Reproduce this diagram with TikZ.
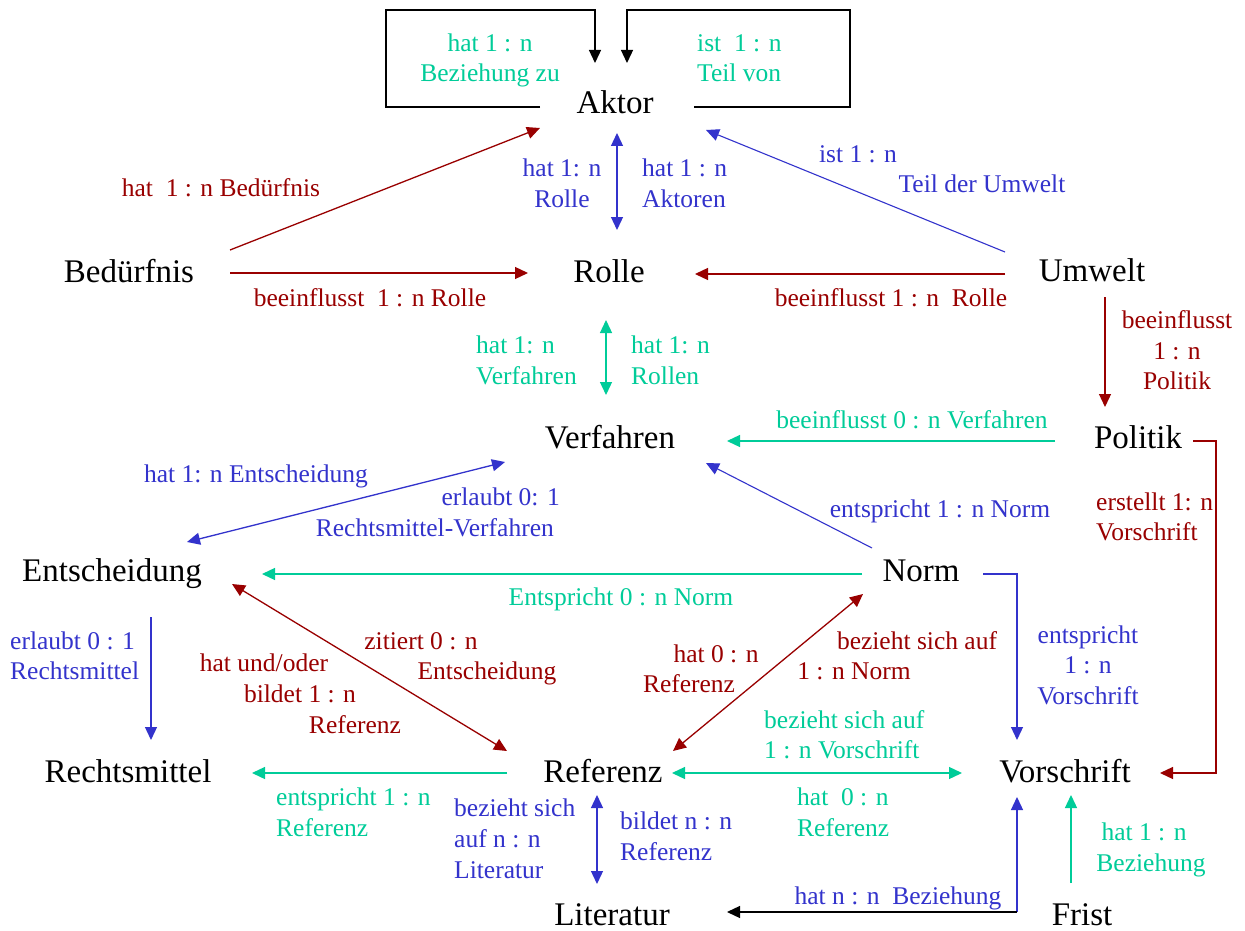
\documentclass[tikz,border=0pt]{standalone}
\usepackage{fontspec}
\setmainfont{Liberation Serif}
\usetikzlibrary{arrows.meta}

\definecolor{dred}{RGB}{153,0,0}
\definecolor{dblue}{RGB}{51,51,204}
\definecolor{dgreen}{RGB}{0,204,153}

\tikzset{
  entity/.style={anchor=base, inner sep=0pt, font=\fontsize{33}{38}\selectfont},
  lab/.style={inner sep=0pt, font=\fontsize{25.5}{30}\selectfont},
  tip/.style={-{Triangle[length=13pt,width=12pt]}},
  tips/.style={{Triangle[length=13pt,width=12pt]}-{Triangle[length=13pt,width=12pt]}},
  conn/.style={line width=1.3pt},
  rd/.style={conn, draw=dred},
  bl/.style={conn, draw=dblue},
  gr/.style={conn, draw=dgreen},
  bk/.style={conn, draw=black},
}

\begin{document}
\begin{tikzpicture}[x=1pt,y=-1pt]
\useasboundingbox[fill=white] (0,0) rectangle (1245,931);

% entities
\node[entity] (aktor)   at (615,114)  {Aktor};
\node[entity] (rolle)   at (609,282)  {Rolle};
\node[entity] (bed)     at (129,282)  {Bedürfnis};
\node[entity] (umwelt)  at (1092,281) {Umwelt};
\node[entity] (verf)    at (610,448)  {Verfahren};
\node[entity] (politik) at (1138,448) {Politik};
\node[entity] (entsch)  at (112,581)  {Entscheidung};
\node[entity] (norm)    at (921,581)  {Norm};
\node[entity] (rechts)  at (128,782)  {Rechtsmittel};
\node[entity] (ref)     at (603,782)  {Referenz};
\node[entity] (vors)    at (1065,782) {Vorschrift};
\node[entity] (lit)     at (612,925)  {Literatur};
\node[entity] (frist)   at (1082,925) {Frist};

% self relations of Aktor
\draw[bk,tip] ([shift={(-75,-7)}]aktor.base) -- ++(-154,0) -- ++(0,-97) -- ++(209,0) -- ++(0,53);
\draw[bk,tip] ([shift={(79,-7)}]aktor.base) -- ++(156,0) -- ++(0,-97) -- ++(-223,0) -- ++(0,53);

% relations
\draw[rd,tip]  ([shift={(101,-32)}]bed.base) -- ([shift={(-75,14)}]aktor.base);
\draw[rd,tip]  ([shift={(101,-9)}]bed.base) -- ([shift={(-81,-9)}]rolle.base);
\draw[bl,tips] ([shift={(2,19)}]aktor.base) -- ([shift={(8,-52)}]rolle.base);
\draw[bl,tip,line width=1.1pt] ([shift={(-87,-29)}]umwelt.base) -- ([shift={(91,16)}]aktor.base);
\draw[rd,tip]  ([shift={(-87,-7)}]umwelt.base) -- ([shift={(86,-8)}]rolle.base);
\draw[gr,tips] ([shift={(-3,38)}]rolle.base) -- ([shift={(-4,-53)}]verf.base);
\draw[rd,tip]  ([shift={(13,16)}]umwelt.base) -- ([shift={(-33,-41)}]politik.base);
\draw[gr,tip]  ([shift={(-83,-7)}]politik.base) -- ([shift={(117,-7)}]verf.base);
\draw[rd,tip]  ([shift={(55,-7)}]politik.base) -- ++(23,0) |- ([shift={(95,-9)}]vors.base);
\draw[bl,tips] ([shift={(-105,14)}]verf.base) -- ([shift={(75,-39)}]entsch.base);
\draw[bl,tip,line width=1.1pt] ([shift={(-49,-33)}]norm.base) -- ([shift={(96,15)}]verf.base);
\draw[gr,tip]  ([shift={(-59,-7)}]norm.base) -- ([shift={(150,-7)}]entsch.base);
\draw[bl,tip]  ([shift={(62,-7)}]norm.base) -| ([shift={(-48,-42)}]vors.base);
\draw[bl,tip]  ([shift={(39,36)}]entsch.base) -- ([shift={(23,-42)}]rechts.base);
\draw[rd,tips] ([shift={(120,3)}]entsch.base) -- ([shift={(-96,-31)}]ref.base);
\draw[rd,tips] ([shift={(-58,13)}]norm.base) -- ([shift={(70,-31)}]ref.base);
\draw[gr,tip]  ([shift={(-96,-9)}]ref.base) -- ([shift={(124,-9)}]rechts.base);
\draw[gr,tips] ([shift={(69,-9)}]ref.base) -- ([shift={(-103,-9)}]vors.base);
\draw[bl,tips] ([shift={(-6,13)}]ref.base) -- ([shift={(-15,-41)}]lit.base);
\coordinate (knick) at ([shift={(-48,130)}]vors.base);
\draw[bl,tip]  (knick) -- ([shift={(-48,15)}]vors.base);
\draw[bk,tip]  (knick) -- ([shift={(115,-13)}]lit.base);
\draw[gr,tip]  ([shift={(-11,-42)}]frist.base) -- ([shift={(6,13)}]vors.base);

% relation labels
\begin{scope}[every node/.append style={lab}]
\node[anchor=base, text=dgreen] (t1) at (490,52) {hat 1 : n};
\node[anchor=base, text=dgreen] (t2) at (490,82) {Beziehung zu};
\node[anchor=base west, text=dgreen] (t3) at (697,52) {ist~~1 : n};
\node[anchor=base west, text=dgreen] (t4) at (697,82) {Teil von};
\node[anchor=base, text=dred] (t5) at (221,196) {hat~~1 : n Bedürfnis};
\node[anchor=base, text=dblue] (t6) at (562,176) {hat 1: n};
\node[anchor=base, text=dblue] (t7) at (562,207) {Rolle};
\node[anchor=base west, text=dblue] (t8) at (642,176) {hat 1 : n};
\node[anchor=base west, text=dblue] (t9) at (642,207) {Aktoren};
\node[anchor=base, text=dblue] (t10) at (858,162) {ist 1 : n};
\node[anchor=base, text=dblue] (t11) at (982,193) {Teil der Umwelt};
\node[anchor=base, text=dred] (t12) at (370,306) {beeinflusst~~1 : n Rolle};
\node[anchor=base, text=dred] (t13) at (891,306) {beeinflusst 1 : n~~Rolle};
\node[anchor=base, text=dred] (t14) at (1177,328) {beeinflusst};
\node[anchor=base, text=dred] (t15) at (1177,359) {1 : n};
\node[anchor=base, text=dred] (t16) at (1177,389) {Politik};
\node[anchor=base west, text=dgreen] (t17) at (476,353) {hat 1: n};
\node[anchor=base west, text=dgreen] (t18) at (476,384) {Verfahren};
\node[anchor=base west, text=dgreen] (t19) at (631,353) {hat 1: n};
\node[anchor=base west, text=dgreen] (t20) at (631,384) {Rollen};
\node[anchor=base, text=dgreen] (t21) at (912,428) {beeinflusst 0 : n Verfahren};
\node[anchor=base, text=dblue] (t22) at (256,482) {hat 1: n Entscheidung};
\node[anchor=base east, text=dblue] (t23) at (560,505) {erlaubt 0: 1};
\node[anchor=base east, text=dblue] (t24) at (554,536) {Rechtsmittel-Verfahren};
\node[anchor=base, text=dblue] (t25) at (940,517) {entspricht 1 : n Norm};
\node[anchor=base west, text=dred] (t26) at (1096,510) {erstellt 1: n};
\node[anchor=base west, text=dred] (t27) at (1096,540) {Vorschrift};
\node[anchor=base, text=dgreen] (t28) at (621,605) {Entspricht 0 : n Norm};
\node[anchor=base west, text=dblue] (t29) at (10,649) {erlaubt 0 : 1};
\node[anchor=base west, text=dblue] (t30) at (10,679) {Rechtsmittel};
\node[anchor=base, text=dred] (t31) at (264,671) {hat und/oder};
\node[anchor=base, text=dred] (t32) at (300,702) {bildet 1 : n};
\node[anchor=base, text=dred] (t33) at (355,733) {Referenz};
\node[anchor=base, text=dred] (t34) at (421,649) {zitiert 0 : n};
\node[anchor=base, text=dred] (t35) at (487,679) {Entscheidung};
\node[anchor=base, text=dred] (t36) at (716,662) {hat 0 : n};
\node[anchor=base, text=dred] (t37) at (689,692) {Referenz};
\node[anchor=base, text=dred] (t38) at (917,649) {bezieht sich auf};
\node[anchor=base, text=dred] (t39) at (854,679) {1 : n Norm};
\node[anchor=base, text=dblue] (t40) at (1088,643) {entspricht};
\node[anchor=base, text=dblue] (t41) at (1088,673) {1 : n};
\node[anchor=base, text=dblue] (t42) at (1088,704) {Vorschrift};
\node[anchor=base west, text=dgreen] (t43) at (764,728) {bezieht sich auf};
\node[anchor=base west, text=dgreen] (t44) at (764,758) {1 : n Vorschrift};
\node[anchor=base west, text=dgreen] (t45) at (276,805) {entspricht 1 : n};
\node[anchor=base west, text=dgreen] (t46) at (276,836) {Referenz};
\node[anchor=base west, text=dblue] (t47) at (454,816) {bezieht sich};
\node[anchor=base west, text=dblue] (t48) at (454,847) {auf n : n};
\node[anchor=base west, text=dblue] (t49) at (454,878) {Literatur};
\node[anchor=base west, text=dblue] (t50) at (620,829) {bildet n : n};
\node[anchor=base west, text=dblue] (t51) at (620,860) {Referenz};
\node[anchor=base west, text=dgreen] (t52) at (797,805) {hat~~0 : n};
\node[anchor=base west, text=dgreen] (t53) at (797,836) {Referenz};
\node[anchor=base, text=dgreen] (t54) at (1144,840) {hat 1 : n};
\node[anchor=base, text=dgreen] (t55) at (1151,871) {Beziehung};
\node[anchor=base, text=dblue] (t56) at (898,904) {hat n : n~~Beziehung};
\end{scope}
\end{tikzpicture}
\end{document}
